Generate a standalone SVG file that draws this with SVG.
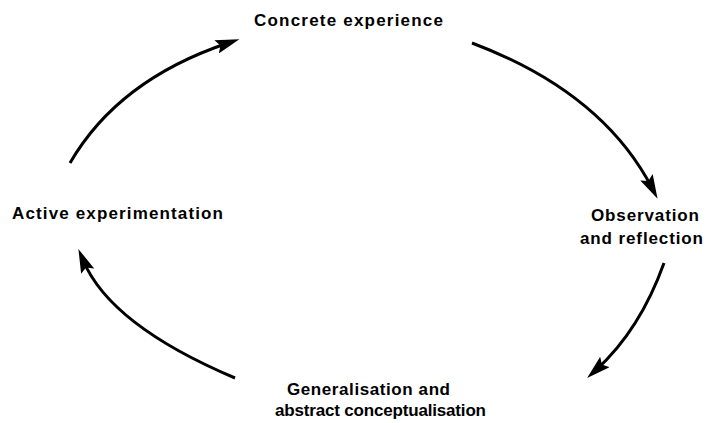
<svg xmlns="http://www.w3.org/2000/svg" width="708" height="423" viewBox="0 0 708 423">
<style>
.lbl{font-family:"Liberation Sans",Arial,sans-serif;font-size:17px;font-weight:bold;fill:#000}
.arc{fill:none;stroke:#000;stroke-width:3}
</style>
<defs>
<marker id="ah" markerUnits="userSpaceOnUse" markerWidth="26" markerHeight="14" refX="12" refY="7" orient="auto">
<path d="M0,0 L24,7 L0,14 L4,7 z" fill="#000"/>
</marker>
</defs>
<rect width="708" height="423" fill="#fff"/>
<g id="connectors">
<path class="arc" d="M70,163 Q118,80 228,43" marker-end="url(#ah)"/>
<path class="arc" d="M472,43 Q602,92 652,188" marker-end="url(#ah)"/>
<path class="arc" d="M664,263 Q640,330 596,370" marker-end="url(#ah)"/>
<path class="arc" d="M235,378 Q110,325 83,260" marker-end="url(#ah)"/>
</g>
<g id="concrete"><text class="lbl" x="254" y="26" textLength="189">Concrete experience</text></g>
<g id="observation"><text class="lbl" x="591" y="221" textLength="108">Observation</text><text class="lbl" x="580" y="244" textLength="123">and reflection</text></g>
<g id="generalisation"><text class="lbl" x="287" y="395" textLength="163">Generalisation and</text><text class="lbl" x="275" y="416" textLength="211">abstract conceptualisation</text></g>
<g id="active"><text class="lbl" x="12" y="219" textLength="211">Active experimentation</text></g>
</svg>
